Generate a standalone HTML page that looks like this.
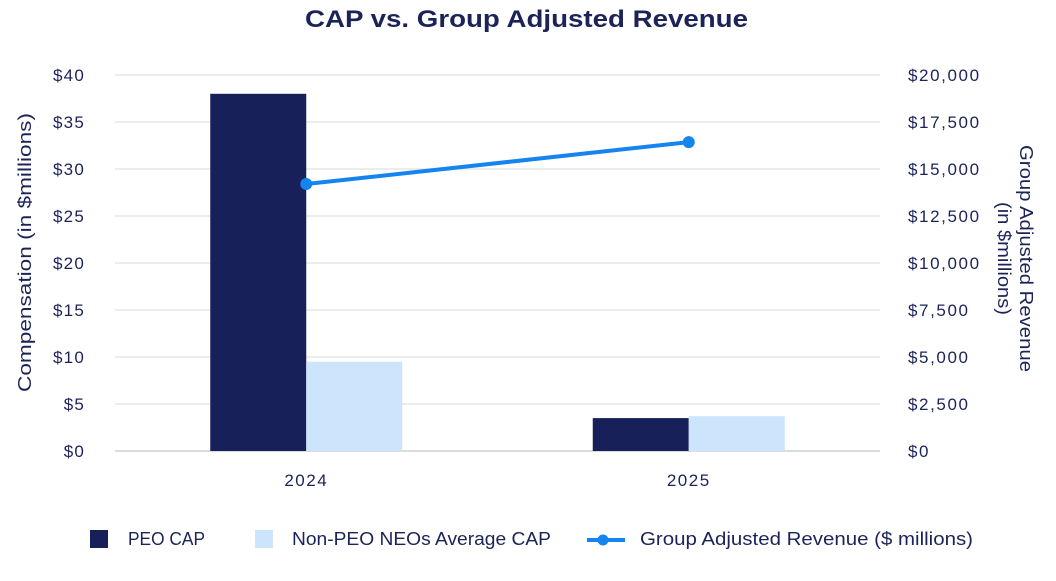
<!DOCTYPE html>
<html><head><meta charset="utf-8"><style>
body{margin:0;background:#fff;}
svg text{font-family:"Liberation Sans",sans-serif;fill:#1b2358;}
</style></head><body>
<svg id="c" width="1056" height="576">
<text x="305" y="27" textLength="443" lengthAdjust="spacingAndGlyphs" font-size="24" font-weight="bold">CAP vs. Group Adjusted Revenue</text>
<g id="grid"></g><g id="bars"></g><g id="line"></g><g id="axes"></g>
<text transform="translate(31,392) rotate(-90)" textLength="279" lengthAdjust="spacingAndGlyphs" font-size="18">Compensation (in $millions)</text>
<g transform="translate(1020,145) rotate(90)">
<text x="0" y="0" textLength="227" lengthAdjust="spacingAndGlyphs" font-size="18">Group Adjusted Revenue</text>
<text x="57" y="22" textLength="113" lengthAdjust="spacingAndGlyphs" font-size="18">(in $millions)</text></g>
<g>
<rect x="90" y="530" width="18" height="18" fill="#172058"/>
<text x="128" y="545" textLength="77" lengthAdjust="spacingAndGlyphs" font-size="18">PEO CAP</text>
<rect x="255" y="530" width="18" height="18" fill="#cce5fc"/>
<text x="292" y="545" textLength="259" lengthAdjust="spacingAndGlyphs" font-size="18">Non-PEO NEOs Average CAP</text>
<line x1="587" y1="540" x2="625" y2="540" stroke="#1584ee" stroke-width="4"/>
<circle cx="603" cy="540" r="5.5" fill="#1584ee"/>
<text x="640" y="545" textLength="333" lengthAdjust="spacingAndGlyphs" font-size="18">Group Adjusted Revenue ($ millions)</text>
</g>
</svg>
<script>
const categories=["2024","2025"];
const peoCap=[38.0,3.5];
const neoCap=[9.5,3.7];
const revenue=[14200,16430];
const leftTicks=[0,5,10,15,20,25,30,35,40];
const rightTicks=[0,2500,5000,7500,10000,12500,15000,17500,20000];
const NS="http://www.w3.org/2000/svg";
const x0=115,x1=880,y0=451,y1=75;
const yL=v=>y0-(v/40)*(y0-y1);
const yR=v=>y0-(v/20000)*(y0-y1);
const bw=(x1-x0)/categories.length;
const xc=i=>x0+bw*(i+0.5);
function mk(t,a,p){const e=document.createElementNS(NS,t);for(const k in a)e.setAttribute(k,a[k]);document.getElementById(p).appendChild(e);return e;}
leftTicks.forEach((v,i)=>{
 const g=mk('line',{x1:x0,x2:x1,y1:yL(v),y2:yL(v),stroke:i==0?'#cfcfcf':'#e6e6e6','stroke-width':1.5},'grid');
 
 
 const t=mk('text',{x:85,y:yL(v)+6,'text-anchor':'end','font-size':17,'letter-spacing':1.2},'axes');t.textContent='$'+v;
 
 
});
rightTicks.forEach(v=>{
 const t=mk('text',{x:908,y:yR(v)+6,'font-size':17,'letter-spacing':1.6},'axes');t.textContent='$'+v.toLocaleString('en-US');
 
 
});
categories.forEach((c,i)=>{
 const t=mk('text',{x:xc(i),y:486,'text-anchor':'middle','font-size':17,'letter-spacing':1.5},'axes');t.textContent=c;
 
 
 const b1=mk('rect',{x:xc(i)-96,y:yL(peoCap[i]),width:96,height:y0-yL(peoCap[i]),fill:'#172058'},'bars');
 
 
 const b2=mk('rect',{x:xc(i),y:yL(neoCap[i]),width:96,height:y0-yL(neoCap[i]),fill:'#cce5fc'},'bars');
 
 
});
const pl=mk('polyline',{points:revenue.map((v,i)=>xc(i)+','+yR(v)).join(' '),fill:'none',stroke:'#1584ee','stroke-width':4},'line');


revenue.forEach((v,i)=>{
 const p=mk('circle',{cx:xc(i),cy:yR(v),r:6,fill:'#1584ee'},'line');
 
 
});
</script>
</body></html>
